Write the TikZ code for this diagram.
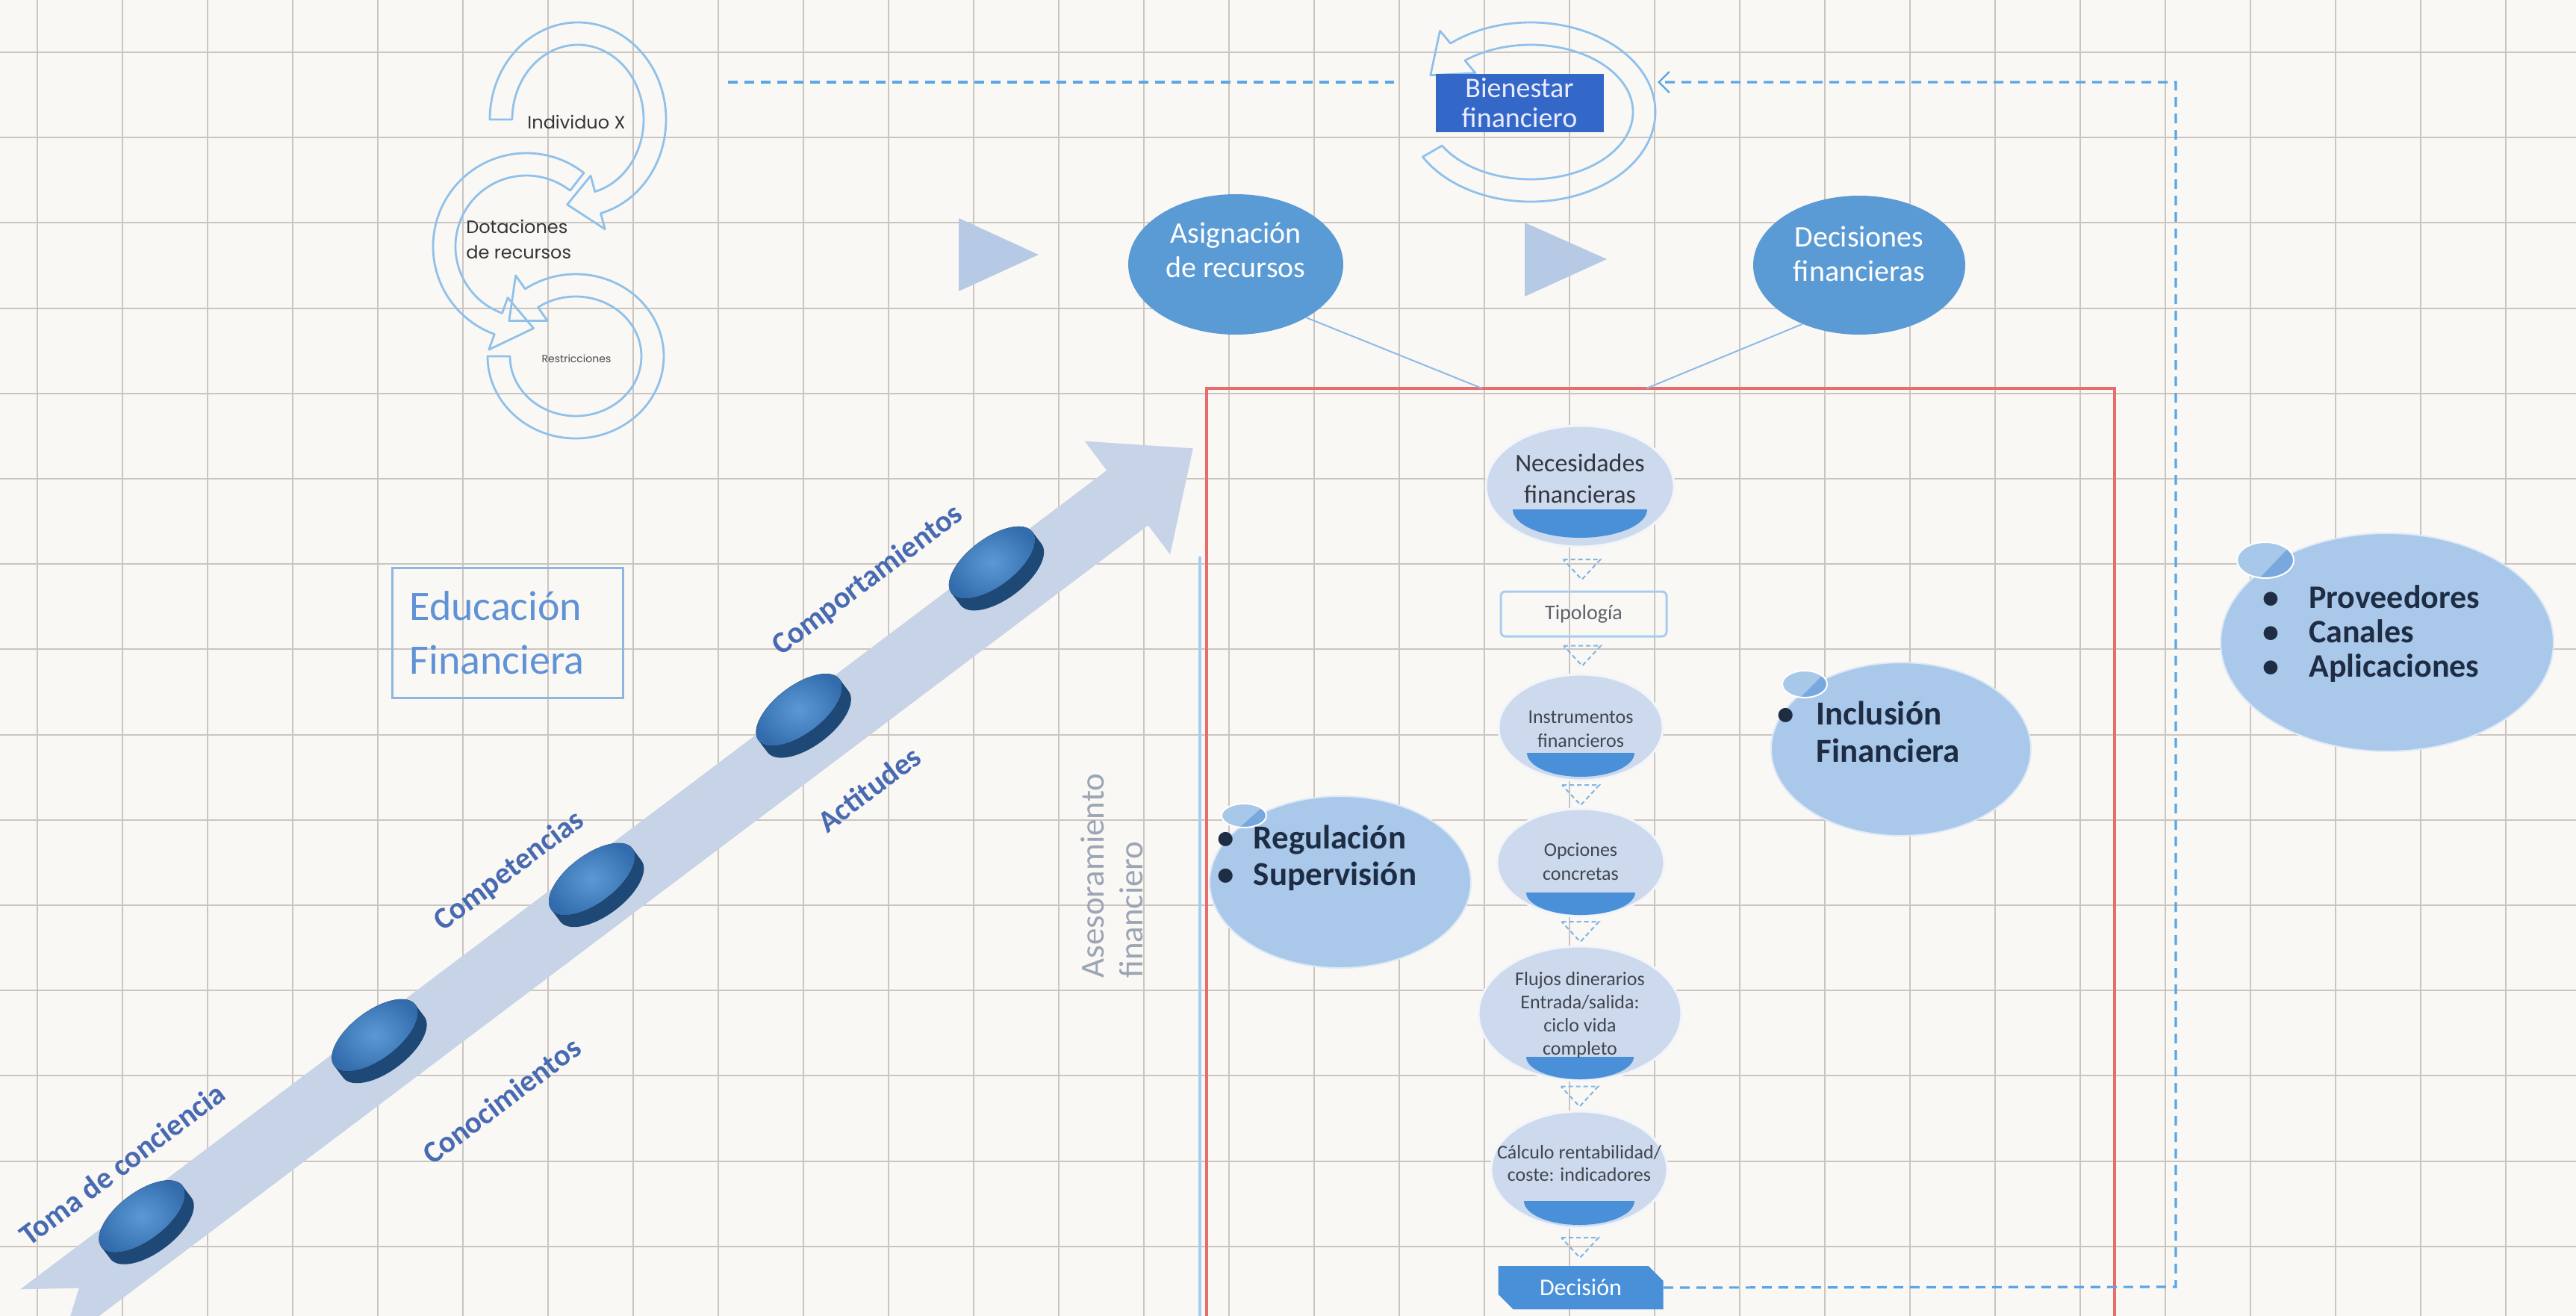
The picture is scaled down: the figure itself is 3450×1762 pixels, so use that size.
\documentclass[tikz,border=0pt]{standalone}
\usepackage{fontspec}
\setmainfont{Carlito}
\newfontfamily\gothfont{Poppins}
\usetikzlibrary{shapes.geometric,shapes.misc,arrows.meta,calc}
\definecolor{bgc}{RGB}{250,248,245}
\definecolor{gridc}{RGB}{203,197,191}
\definecolor{midblue}{RGB}{91,155,213}
\definecolor{lightell}{RGB}{170,201,234}
\definecolor{smallell}{RGB}{168,200,234}
\definecolor{smalldark}{RGB}{120,168,222}
\definecolor{flowellc}{RGB}{205,217,236}
\definecolor{segblue}{RGB}{74,144,217}
\definecolor{tricol}{RGB}{182,202,230}
\definecolor{bigarrowc}{RGB}{199,211,230}
\definecolor{pillside}{RGB}{30,72,118}
\definecolor{pilltop}{RGB}{50,108,172}
\definecolor{pillhi}{RGB}{92,152,214}
\definecolor{labelc}{RGB}{72,106,178}
\definecolor{bienc}{RGB}{52,104,200}
\definecolor{redc}{RGB}{232,108,108}
\definecolor{vlinec}{RGB}{168,204,239}
\definecolor{dashc}{RGB}{90,166,230}
\definecolor{asesc}{RGB}{155,165,180}
\definecolor{educ}{RGB}{96,146,214}
\definecolor{eduboxc}{RGB}{141,182,226}
\definecolor{arcc}{RGB}{143,193,234}
\definecolor{navy}{RGB}{30,45,68}
\definecolor{flowtxt}{RGB}{64,70,80}
\definecolor{tridash}{RGB}{127,181,230}
\definecolor{thinc}{RGB}{141,187,230}
\begin{document}
\begin{tikzpicture}[x=0.5pt,y=-0.5pt,
  gridline/.style={draw=gridc, line width=1pt},
  arcline/.style={draw=arcc, line width=1.4pt, line join=round},
  bigell/.style={ellipse, fill=midblue, inner sep=0pt},
  elltext/.style={text=white, align=center, inner sep=0pt, font=\fontsize{20pt}{23pt}\selectfont},
  bubble/.style={ellipse, fill=lightell, draw=white!60!lightell, line width=1pt, inner sep=0pt},
  flowell/.style={ellipse, fill=flowellc, draw=white!75!flowellc, line width=1.5pt, inner sep=0pt},
  ftext/.style={text=flowtxt, align=center, inner sep=0pt},
  tridash/.style={draw=tridash, line width=1pt, dash pattern=on 3pt off 2pt},
  conn/.style={draw=dashc, line width=1.6pt, dash pattern=on 6.5pt off 4.5pt},
  thinl/.style={draw=thinc, line width=1pt},
  lab/.style={text=labelc, inner sep=0pt, font=\bfseries\fontsize{20.5pt}{24pt}\selectfont},
  bultext/.style={text=navy, inner sep=0pt, anchor=west}
]
\useasboundingbox (0,0) rectangle (3450,1762);
\fill[bgc] (0,0) rectangle (3450,1762);
% grid
\foreach \k in {0,...,29} \draw[gridline] ({50+114*\k},0) -- ({50+114*\k},1762);
\foreach \k in {0,...,14} \draw[gridline] (0,{70+114.2*\k}) -- (3450,{70+114.2*\k});

% ---------- big diagonal arrow with discs ----------
\begin{scope}[shift={(867,1151)}, rotate=37]
  \fill[bigarrowc] (-1017,-46) -- (805,-46) -- (805,-95) -- (915,0) -- (805,95) -- (805,46) -- (-1017,46) -- (-953,0) -- cycle;
  \foreach \s/\t in {-828/-18, -433/-24, -75/-16, 283/-30, 608/-32} {
    \fill[pillside] ({\s-68},{\t-8}) -- ({\s-68},{\t+12}) arc[start angle=180,end angle=0,x radius=68,y radius=32] -- ({\s+68},{\t-8}) -- cycle;
    \fill[inner color=pillhi, outer color=pilltop] (\s,{\t-8}) ellipse[x radius=68,y radius=32];
  }
  \node[lab, transform shape] (l1) at (-807,-98) {Toma de conciencia};
  \node[lab, transform shape] (l2) at (-350,140) {Conocimientos};
  \node[lab, transform shape] (l3) at (-157,-99) {Competencias};
  \node[lab, transform shape] (l4) at (294,103) {Actitudes};
  \node[lab, transform shape] (l5) at (461,-121) {Comportamientos};
\end{scope}

% ---------- Educacion Financiera ----------
\node[draw=eduboxc, line width=1.5pt, minimum width=154.5pt, minimum height=87pt,
      text width=131.5pt, inner xsep=11.5pt, align=left, text=educ,
      font=\fontsize{28pt}{36pt}\selectfont] (edu) at (680,847) {Educación\\Financiera};

% ---------- circular arrows (top left) ----------
\draw[arcline] ([shift={(774,160)}]180:118 and 130) arc[start angle=180,end angle=435,x radius=118,y radius=130]
  -- ([shift={(774,160)}]435:140 and 152) -- ([shift={(774,160)}]458:103 and 115)
  -- ([shift={(774,160)}]435:66 and 78) -- ([shift={(774,160)}]435:88 and 100)
  arc[start angle=435,end angle=180,x radius=88,y radius=100] -- cycle;
\draw[arcline] ([shift={(705,330)}]308:125 and 125) arc[start angle=308,end angle=110,x radius=125,y radius=125]
  -- ([shift={(705,330)}]110:147 and 147) -- ([shift={(705,330)}]85:110 and 110)
  -- ([shift={(705,330)}]110:73 and 73) -- ([shift={(705,330)}]110:95 and 95)
  arc[start angle=110,end angle=308,x radius=95,y radius=95] -- cycle;
\draw[arcline] ([shift={(771,477)}]180:118 and 110) arc[start angle=180,end angle=-125,x radius=118,y radius=110]
  -- ([shift={(771,477)}]-125:140 and 132) -- ([shift={(771,477)}]-150:103 and 95)
  -- ([shift={(771,477)}]-125:66 and 58) -- ([shift={(771,477)}]-125:88 and 80)
  arc[start angle=-125,end angle=180,x radius=88,y radius=80] -- cycle;
\node[font=\gothfont\fontsize{12pt}{14pt}\selectfont, text=black!80, inner sep=0pt] (indx) at (772,163) {Individuo X};
\node[font=\gothfont\fontsize{12pt}{17pt}\selectfont, text=black!80, inner sep=0pt, align=left, anchor=west] (dot) at (624,320) {Dotaciones\\de recursos};
\node[font=\gothfont\fontsize{7pt}{8pt}\selectfont, text=black!70, inner sep=0pt] (restr) at (772,480) {Restricciones};

% ---------- triangles ----------
\fill[tricol] (1284,292) -- (1391,341) -- (1284,390) -- cycle;
\fill[tricol] (2042,298) -- (2152,347) -- (2042,397) -- cycle;

% ---------- red frame and blue line ----------
\draw[redc, line width=2pt] (1616,1800) -- (1616,520) -- (2832,520) -- (2832,1800);
\draw[vlinec, line width=2pt] (1607,745) -- (1607,1800);
\coordinate (rt1) at (1985,520);
\coordinate (rt2) at (2205,520);

% ---------- Asignacion / Decisiones ----------
\node[bigell, minimum width=144pt, minimum height=94pt] (asig) at (1655,354) {};
\node[elltext] (asigt) at (1655,335) {Asignación\\de recursos};
\node[bigell, minimum width=142pt, minimum height=93pt] (deci) at (2490,355) {};
\node[elltext] (decit) at (2490,340) {Decisiones\\financieras};
\draw[thinl] (asig.-37) -- (rt1);
\draw[thinl] (deci.226) -- (rt2);

% ---------- Bienestar ----------
\draw[arcline] ([shift={(2050,150)}]150:167 and 120) arc[start angle=150,end angle=-130,x radius=167,y radius=120]
  -- ([shift={(2050,150)}]-130:189 and 142) -- ([shift={(2050,150)}]-152:152 and 105)
  -- ([shift={(2050,150)}]-130:115 and 68) -- ([shift={(2050,150)}]-130:137 and 90)
  arc[start angle=-130,end angle=150,x radius=137,y radius=90] -- cycle;
\node[fill=bienc, minimum width=112.5pt, minimum height=39pt, inner sep=0pt, text=white!92!blue,
      align=center, font=\fontsize{19pt}{20pt}\selectfont] (bien) at (2035,138) {Bienestar\\financiero};

% ---------- bubbles ----------
\node[bubble, minimum width=175pt, minimum height=115pt] (reg) at (1795,1181) {};
\node[bubble, minimum width=174pt, minimum height=116pt] (incl) at (2546,1003) {};
\node[bubble, minimum width=223pt, minimum height=146pt] (prov) at (3197,860) {};
\foreach \cx/\cy/\rx/\ry/\nm in {1666/1092/30/16/sreg, 2417/916/30/18/sincl, 3034/750/38/24/sprov} {
  \begin{scope}
    \clip (\cx,\cy) ellipse[x radius=\rx, y radius=\ry];
    \fill[smallell] (\cx,\cy) ellipse[x radius=\rx, y radius=\ry];
    \fill[smalldark] ({\cx+\rx},{\cy-\ry}) -- ({\cx-0.2*\rx},{\cy+\ry}) -- ({\cx+\rx},{\cy+\ry}) -- cycle;
  \end{scope}
  \draw[white, line width=1pt] (\cx,\cy) ellipse[x radius=\rx, y radius=\ry];
}
\node[bultext, font=\bfseries\fontsize{22.5pt}{24.5pt}\selectfont] (regt) at (1630,1151)
  {\begin{tabular}{@{}l@{\hspace{13pt}}l@{}}\textbullet & Regulación\\ \textbullet & Supervisión\end{tabular}};
\node[bultext, font=\bfseries\fontsize{22.5pt}{25pt}\selectfont] (inclt) at (2380,985)
  {\begin{tabular}{@{}l@{\hspace{15pt}}l@{}}\textbullet & Inclusión\\ & Financiera\end{tabular}};
\node[bultext, font=\bfseries\fontsize{22pt}{23pt}\selectfont] (provt) at (3030,851)
  {\begin{tabular}{@{}l@{\hspace{20pt}}l@{}}\textbullet & Proveedores\\ \textbullet & Canales\\ \textbullet & Aplicaciones\end{tabular}};

% ---------- Asesoramiento ----------
\node[rotate=90, anchor=north west, align=left, inner sep=0pt, text=asesc,
      font=\fontsize{22.5pt}{26pt}\selectfont] (ases) at (1447,1310) {Asesoramiento\\financiero};

% ---------- flowchart ----------
\node[flowell, minimum width=126pt, minimum height=81pt] (f1) at (2116,651) {};
\fill[segblue] (2026,682) arc[start angle=180,end angle=0,x radius=90,y radius=38] -- cycle;
\node[ftext, font=\fontsize{17pt}{21pt}\selectfont, text=flowtxt!80!black] (f1t) at (2116,641) {Necesidades\\financieras};

\node[draw=vlinec, line width=1.5pt, rounded corners=3pt, minimum width=111pt, minimum height=30pt, inner sep=0pt,
      text=flowtxt!85, font=\fontsize{14pt}{16pt}\selectfont] (f2) at (2121,822) {Tipología};

\node[flowell, minimum width=110pt, minimum height=71pt] (f3) at (2117,974) {};
\fill[segblue] (2045,1008) arc[start angle=180,end angle=0,x radius=72,y radius=32] -- cycle;
\node[ftext, font=\fontsize{13pt}{16pt}\selectfont] (f3t) at (2117,976) {Instrumentos\\financieros};

\node[flowell, minimum width=112pt, minimum height=72pt] (f4) at (2117,1155) {};
\fill[segblue] (2044,1195) arc[start angle=180,end angle=0,x radius=73,y radius=30] -- cycle;
\node[ftext, font=\fontsize{13pt}{16pt}\selectfont] (f4t) at (2117,1154) {Opciones\\concretas};

\node[flowell, minimum width=136pt, minimum height=90pt] (f5) at (2116,1357) {};
\fill[segblue] (2044,1415) arc[start angle=180,end angle=0,x radius=72,y radius=30] -- cycle;
\node[ftext, font=\fontsize{13pt}{15.5pt}\selectfont] (f5t) at (2116,1359) {Flujos dinerarios\\Entrada/salida:\\ciclo vida\\completo};

\node[flowell, minimum width=118pt, minimum height=78pt] (f6) at (2115,1566) {};
\fill[segblue] (2041,1608) arc[start angle=180,end angle=0,x radius=74,y radius=32] -- cycle;
\node[ftext, font=\fontsize{13pt}{15pt}\selectfont] (f6t) at (2115,1558) {Cálculo rentabilidad/\\coste: indicadores};

\node[chamfered rectangle, chamfered rectangle corners={north east,south west}, chamfered rectangle xsep=5pt, chamfered rectangle ysep=5pt,
      fill=segblue, minimum width=110.5pt, minimum height=29pt, inner sep=0pt,
      text=white, font=\fontsize{16pt}{18pt}\selectfont] (f7) at (2117,1724) {Decisión};

% dashed down-arrow markers
\foreach \a/\b in {f1/f2, f2/f3, f3/f4, f4/f5, f5/f6, f6/f7} {
  \path let \p1=($(\a.south)!0.5!(\b.north)$) in
    coordinate (m) at (\x1,\y1);
  \draw[tridash] ([shift={(-25,-13)}]m) -- ([shift={(25,-13)}]m) -- ([shift={(0,14)}]m) -- cycle;
}

% ---------- dashed feedback connector ----------
\coordinate (cBR) at (2914,1723);
\coordinate (cTR) at (2914,110);
\coordinate (arcR) at (2220,110);
\coordinate (dlS) at (975,110);
\coordinate (dlE) at (1867,110);
\draw[conn, -{Straight Barb[length=7pt,width=14pt,line width=1.2pt]}] (f7.east) -- (cBR) -- (cTR) -- (arcR);
\draw[conn] (dlS) -- (dlE);
\end{tikzpicture}
\end{document}
